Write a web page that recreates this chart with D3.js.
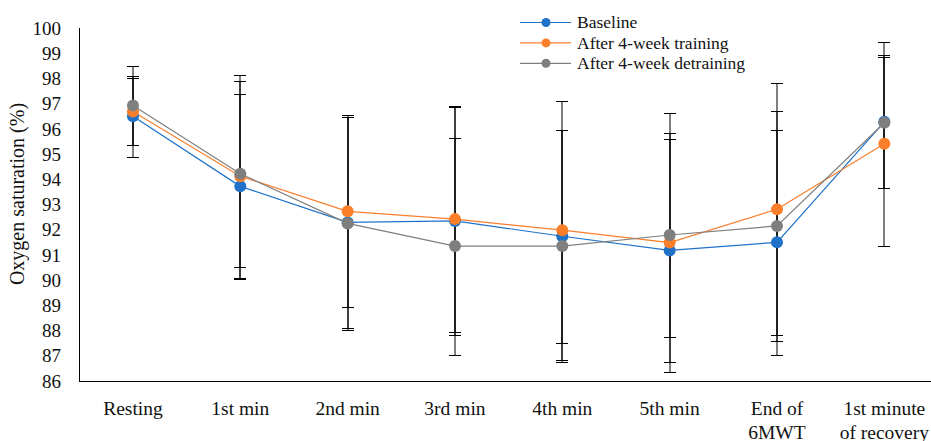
<!DOCTYPE html>
<html lang="en">
  <head>
    <meta charset="utf-8">
    <title>Oxygen saturation during 6MWT</title>
    <style>
      body { margin: 0; padding: 0; background: #fff; }
      #chart { width: 931px; height: 441px; }
      text { font-family: "Liberation Serif", "Times New Roman", serif; fill: #111; }
    </style>
  </head>
  <body>
    <div id="chart"></div>
    <script src="https://cdn.jsdelivr.net/npm/d3@7"></script>
    <script>
      // data
      var categories = [
        ['Resting'], ['1st min'], ['2nd min'], ['3rd min'],
        ['4th min'], ['5th min'], ['End of', '6MWT'], ['1st minute', 'of recovery']
      ];
      var seriesNames = ['Baseline', 'After 4-week training', 'After 4-week detraining'];
      var baseline     = [96.50, 93.72, 92.29, 92.35, 91.74, 91.18, 91.50, 96.28];
      var baselineSD   = [1.61, 3.66, 4.20, 4.51, 4.23, 4.42, 4.46, 2.64];
      var training     = [96.69, 94.12, 92.73, 92.42, 91.98, 91.49, 92.81, 95.41];
      var trainingSD   = [1.33, 4.03, 3.81, 4.49, 5.14, 5.12, 4.99, 4.04];
      var detraining   = [96.93, 94.22, 92.25, 91.35, 91.35, 91.79, 92.15, 96.24];
      var detrainingSD = [1.56, 3.68, 4.22, 4.30, 4.59, 4.04, 4.57, 2.60];
      var yTicks = d3.range(86, 101, 1);

      var colors = ['#1f72c8', '#fb7f2b', '#7f7f7f'];
      var series = [
        { name: seriesNames[0], values: baseline, sd: baselineSD, color: colors[0] },
        { name: seriesNames[1], values: training, sd: trainingSD, color: colors[1] },
        { name: seriesNames[2], values: detraining, sd: detrainingSD, color: colors[2] }
      ];

      var width = 931, height = 441;
      var plotLeft = 79.3, plotRight = 938, plotTop = 28, plotBottom = 381;

      var svg = d3.select('#chart').append('svg')
        .attr('width', width)
        .attr('height', height);

      var x = d3.scaleBand()
        .domain(d3.range(categories.length))
        .range([plotLeft, plotRight])
        .padding(0);

      var y = d3.scaleLinear()
        .domain([86, 100])
        .range([plotBottom, plotTop]);

      var cx = function(i) { return x(i) + x.bandwidth() / 2; };

      // axes
      svg.append('line')
        .attr('x1', Math.floor(plotLeft) + 0.5).attr('x2', Math.floor(plotLeft) + 0.5)
        .attr('y1', y(100)).attr('y2', y(86) + 1)
        .style('stroke', '#000').style('stroke-width', 1);
      svg.append('line')
        .attr('x1', Math.floor(plotLeft)).attr('x2', width)
        .attr('y1', y(86) + 0.5).attr('y2', y(86) + 0.5)
        .style('stroke', '#000').style('stroke-width', 1);

      svg.selectAll('.ytick')
        .data(yTicks)
        .enter().append('text')
        .attr('class', 'ytick')
        .attr('x', 61)
        .attr('y', function(d) { return y(d); })
        .attr('dy', '0.35em')
        .attr('text-anchor', 'end')
        .style('font-size', '19px')
        .text(function(d) { return d; });

      svg.append('text')
        .attr('transform', 'translate(24,' + 194 + ') rotate(-90)')
        .attr('text-anchor', 'middle')
        .style('font-size', '20px')
        .text('Oxygen saturation (%)');

      var xl = svg.selectAll('.xlabel')
        .data(categories)
        .enter().append('text')
        .attr('class', 'xlabel')
        .attr('text-anchor', 'middle')
        .style('font-size', '19.5px');
      xl.selectAll('tspan')
        .data(function(d, i) { return d.map(function(t) { return { t: t, i: i }; }); })
        .enter().append('tspan')
        .attr('x', function(d) { return cx(d.i); })
        .attr('y', function(d, j) { return 415 + j * 23.5; })
        .text(function(d) { return d.t; });

      // error bars
      var eb = svg.append('g');
      series.forEach(function(s) {
        s.values.forEach(function(v, i) {
          var xx = Math.round(cx(i));
          var top = Math.round(y(v + s.sd[i])) + 0.5;
          var bot = Math.round(y(v - s.sd[i])) + 0.5;
          eb.append('line')
            .attr('x1', xx).attr('x2', xx)
            .attr('y1', top).attr('y2', bot)
            .style('stroke', '#000').style('stroke-width', 1);
          [top, bot].forEach(function(c) {
            eb.append('line')
              .attr('x1', xx - 6).attr('x2', xx + 6)
              .attr('y1', c).attr('y2', c)
              .style('stroke', '#000').style('stroke-width', 1);
          });
        });
      });

      // lines and markers
      var line = d3.line()
        .x(function(d, i) { return cx(i); })
        .y(function(d) { return y(d); });

      series.forEach(function(s) {
        svg.append('path')
          .datum(s.values)
          .attr('d', line)
          .style('fill', 'none')
          .style('stroke', s.color)
          .style('stroke-width', 1.2);
      });
      series.forEach(function(s) {
        svg.selectAll(null)
          .data(s.values)
          .enter().append('circle')
          .attr('cx', function(d, i) { return cx(i); })
          .attr('cy', function(d) { return y(d); })
          .attr('r', 6)
          .style('fill', s.color);
      });

      // legend
      var legend = svg.append('g');
      series.forEach(function(s, k) {
        var ly = 22.5 + k * 20.4;
        legend.append('line')
          .attr('x1', 520).attr('x2', 571)
          .attr('y1', ly).attr('y2', ly)
          .style('stroke', s.color).style('stroke-width', 1.2);
        legend.append('circle')
          .attr('cx', 546).attr('cy', ly).attr('r', 4.5)
          .style('fill', s.color);
        legend.append('text')
          .attr('x', 577).attr('y', ly)
          .attr('dy', '0.33em')
          .style('font-size', '17.5px')
          .text(s.name);
      });
    </script>
  </body>
</html>
